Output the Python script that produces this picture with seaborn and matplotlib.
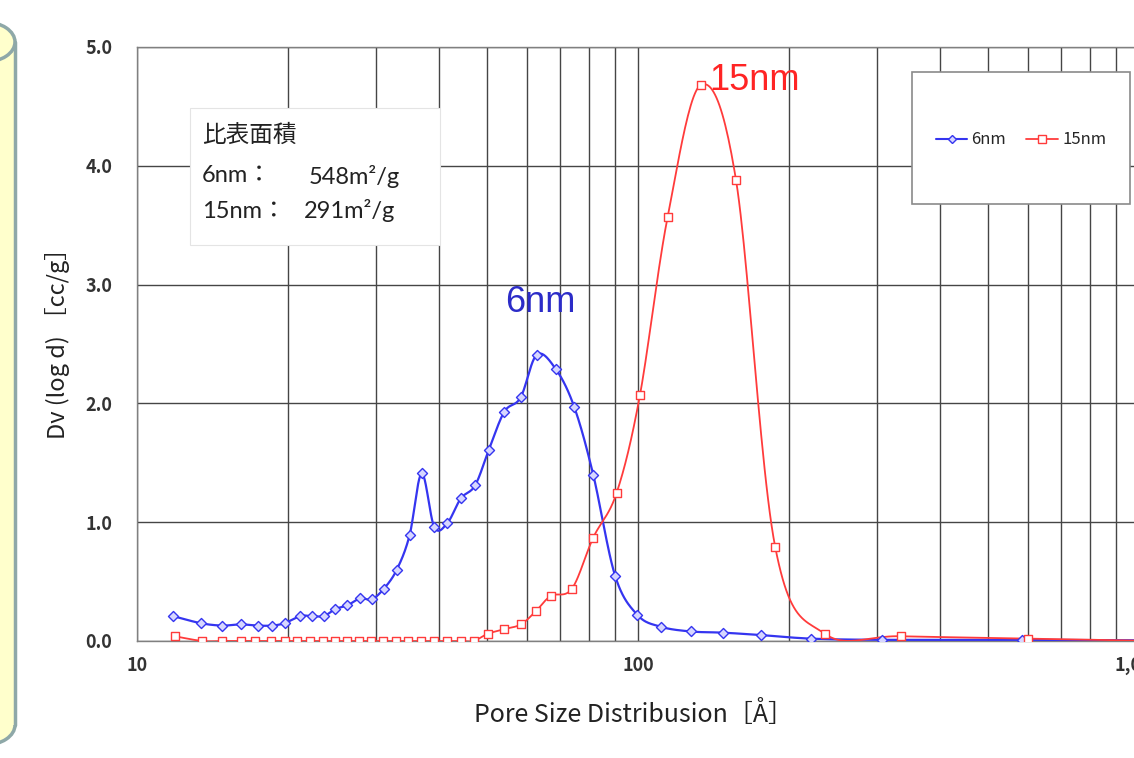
"""Pore size distribution (BJH style) for 6nm and 15nm samples."""

import matplotlib
matplotlib.use("Agg")
import matplotlib.pyplot as plt
import numpy as np
import seaborn as sns
from matplotlib.lines import Line2D
from matplotlib.patches import Ellipse, Rectangle
from matplotlib.ticker import FixedLocator, LogLocator, NullFormatter

# pore diameter [A] and Dv(log d) [cc/g]
pore_6nm = [11.8, 13.4, 14.8, 16.1, 17.4, 18.6, 19.7, 21.2, 22.3, 23.6,
            24.9, 26.3, 27.9, 29.4, 31.1, 33.0, 35.0, 37.0, 39.2, 41.6,
            44.3, 47.3, 50.4, 54.1, 58.3, 62.8, 68.5, 74.6, 81.4, 90.0,
            99.7, 111.0, 127.6, 148.0, 176.0, 221.5, 306.5, 585.0, 1100.0]
dv_6nm = [0.21, 0.15, 0.13, 0.14, 0.13, 0.13, 0.15, 0.21, 0.21, 0.21,
          0.27, 0.30, 0.36, 0.35, 0.44, 0.60, 0.89, 1.41, 0.96, 0.99,
          1.20, 1.31, 1.61, 1.93, 2.05, 2.41, 2.29, 1.97, 1.40, 0.55,
          0.22, 0.12, 0.08, 0.07, 0.05, 0.02, 0.01, 0.01, 0.005]

pore_15nm = [11.9, 13.5, 14.8, 16.1, 17.2, 18.5, 19.7, 20.9, 22.1, 23.5,
             24.8, 26.2, 27.7, 29.3, 31.0, 32.9, 34.8, 36.9, 39.2, 41.6,
             44.3, 47.0, 50.1, 54.1, 58.4, 62.5, 67.0, 73.8, 81.4, 90.7,
             100.9, 114.6, 133.4, 156.9, 187.9, 236.2, 334.5, 601.0, 1100.0]
dv_15nm = [0.04, 0.0, 0.0, 0.0, 0.0, 0.0, 0.0, 0.0, 0.0, 0.0,
           0.0, 0.0, 0.0, 0.0, 0.0, 0.0, 0.0, 0.0, 0.0, 0.0,
           0.0, 0.0, 0.06, 0.10, 0.14, 0.25, 0.38, 0.44, 0.87, 1.25,
           2.07, 3.57, 4.68, 3.88, 0.79, 0.06, 0.04, 0.02, 0.0]

series_labels = ["6nm", "15nm"]
surface_area = ["548m²/g", "291m²/g"]
x_ticks = [10, 100, 1000]
x_tick_labels = ["10", "100", "1,000"]
y_ticks = [0, 1, 2, 3, 4, 5]

BLUE = "#3535f0"
RED = "#ff3b3b"
W, H = 1134, 758
INFO_FONT = ["Lato", "Noto Sans CJK JP", "DejaVu Sans"]
ARIAL = ["Liberation Sans", "DejaVu Sans"]


def smooth(x, y, n=24):
    """Excel-like smoothed line (cubic bezier through points) in log-x space."""
    pts = np.column_stack([np.log10(x), y])
    pad = np.vstack([pts[0], pts, pts[-1]])
    t = np.linspace(0, 1, n, endpoint=False)[:, None]
    segs = []
    for i in range(len(pts) - 1):
        p0, p1, p2, p3 = pad[i], pad[i + 1], pad[i + 2], pad[i + 3]
        c1 = p1 + (p2 - p0) / 6
        c2 = p2 - (p3 - p1) / 6
        segs.append((1 - t) ** 3 * p1 + 3 * (1 - t) ** 2 * t * c1
                    + 3 * (1 - t) * t ** 2 * c2 + t ** 3 * p2)
    segs.append(pts[-1:])
    arr = np.vstack(segs)
    return 10 ** arr[:, 0], arr[:, 1]


sns.set_theme(style="white")
plt.rcParams["font.family"] = ["Noto Sans CJK JP", "DejaVu Sans"]

fig = plt.figure(figsize=(W / 100, H / 100), dpi=100)
fig.patch.set_facecolor("white")

# main axes: x 10 -> 1000 spans px 137..1139, y 0 -> 5 spans px 641..47
ax = fig.add_axes([137 / W, (H - 641) / H, (1139 - 137) / W, (641 - 47) / H])
ax.set_xscale("log")
ax.set_xlim(10, 1000)
ax.set_ylim(0, 5)

for xs, ys, color, lw in [(pore_6nm, dv_6nm, BLUE, 1.6), (pore_15nm, dv_15nm, RED, 1.3)]:
    sx, sy = smooth(xs, ys)
    sns.lineplot(x=sx, y=sy, ax=ax, color=color, lw=lw, sort=False,
                 estimator=None, zorder=3)

sns.scatterplot(x=pore_6nm, y=dv_6nm, ax=ax, marker="D", s=26,
                facecolor="#d6d6ff", edgecolor=BLUE, linewidth=1.0, zorder=4)
sns.scatterplot(x=pore_15nm, y=dv_15nm, ax=ax, marker="s", s=36,
                facecolor="white", edgecolor=RED, linewidth=1.0, zorder=4)

# grid
ax.xaxis.set_major_locator(FixedLocator(x_ticks))
ax.xaxis.set_minor_locator(LogLocator(base=10, subs=range(2, 10)))
ax.xaxis.set_minor_formatter(NullFormatter())
ax.set_xticklabels(x_tick_labels)
ax.set_yticks(y_ticks)
ax.set_yticklabels([f"{v:.1f}" for v in y_ticks])
ax.set_axisbelow(True)
ax.grid(which="both", axis="x", color="#454545", lw=1.0)
ax.grid(which="major", axis="y", color="#454545", lw=1.0)
ax.tick_params(which="both", length=0)
ax.tick_params(axis="x", pad=11, labelsize=13, labelcolor="#333333")
ax.tick_params(axis="y", pad=18, labelsize=13, labelcolor="#333333")
for lab in ax.get_xticklabels() + ax.get_yticklabels():
    lab.set_fontweight("bold")
for sp in ax.spines.values():
    sp.set_color("#808080")
    sp.set_linewidth(1.0)

ax.set_xlabel("Pore Size Distribusion［Å］", fontsize=18, color="#222222")
ax.xaxis.set_label_coords((633 - 137) / 1002, (641 - 714) / 594)
ax.xaxis.label.set_va("center")
ax.set_ylabel("Dv (log d) ［cc/g］", fontsize=17, color="#222222")
ax.yaxis.set_label_coords((58 - 137) / 1002, (641 - 338) / 594)
ax.yaxis.label.set_va("center")

# peak labels
ax.text(63.7, 2.85, "6nm", color="#2c2cc8", fontsize=26, ha="center",
        va="center", family=ARIAL)
ax.text(139.0, 4.72, "15nm", color="#ff2424", fontsize=26, ha="left",
        va="center", family=ARIAL)

# overlay in pixel coords for the cylinder, info box and legend
ov = fig.add_axes([0, 0, 1, 1], zorder=5)
ov.set_xlim(0, W)
ov.set_ylim(H, 0)
ov.axis("off")
ov.patch.set_alpha(0)

yellow, rim = "#ffffcc", "#8ea8a8"
ov.add_patch(Ellipse((-15, 725), 60, 40, facecolor=yellow, edgecolor=rim, lw=2.5))
ov.add_patch(Rectangle((-20, 42), 35, 683, facecolor=yellow, edgecolor="none"))
ov.plot([15, 15], [42, 725], color=rim, lw=2.5)
ov.add_patch(Ellipse((-15, 42), 60, 40, facecolor=yellow, edgecolor=rim, lw=2.5))

ov.add_patch(Rectangle((190, 108), 250, 137, facecolor="white",
                       edgecolor="#e4e4e4", lw=0.8))
ov.text(202, 135, "比表面積", fontsize=17, va="center", color="#222222")
ov.text(202, 176, "6nm：", fontsize=17, va="center", color="#222222", family=INFO_FONT)
ov.text(309, 176, surface_area[0], fontsize=17, va="center", color="#222222", family=INFO_FONT)
ov.text(202, 211, "15nm：", fontsize=17, va="center", color="#222222", family=INFO_FONT)
ov.text(304, 211, surface_area[1], fontsize=17, va="center", color="#222222", family=INFO_FONT)

ov.add_patch(Rectangle((912, 72), 218, 132, facecolor="white",
                       edgecolor="#8a8a8a", lw=1.2))
handles = [
    Line2D([], [], color=BLUE, lw=1.5, marker="D", markersize=4.5,
           markerfacecolor="#d6d6ff", markeredgecolor=BLUE),
    Line2D([], [], color=RED, lw=1.3, marker="s", markersize=5.5,
           markerfacecolor="white", markeredgecolor=RED),
]
ov.legend(handles, series_labels, loc="center", bbox_to_anchor=(1021, 140),
          bbox_transform=ov.transData, ncol=2, frameon=False, fontsize=12,
          handlelength=1.9, handletextpad=0.25, columnspacing=1.2)

fig.savefig("out.png", dpi=100)
